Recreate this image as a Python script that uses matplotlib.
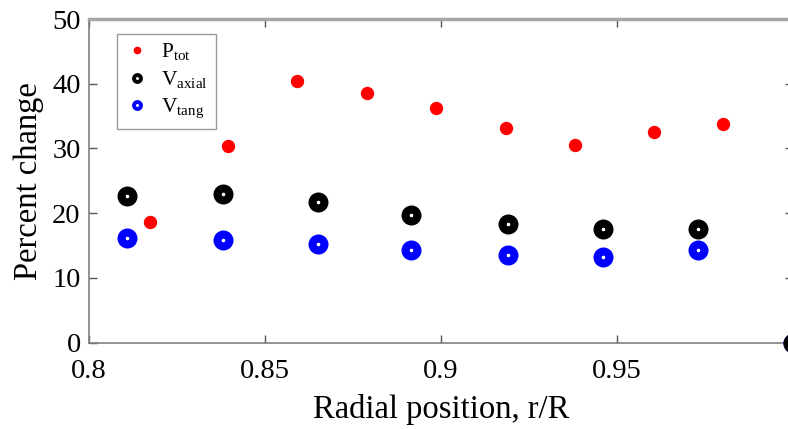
import matplotlib.pyplot as plt
from matplotlib.lines import Line2D

plt.rcParams['font.family'] = ['Liberation Serif', 'DejaVu Serif']
plt.rcParams['mathtext.fontset'] = 'custom'
plt.rcParams['mathtext.rm'] = 'Liberation Serif'

# 読み取った値
r_ptot = [0.8173, 0.8395, 0.859, 0.879, 0.8986, 0.9185, 0.938, 0.9605, 0.980]
p_tot = [18.6, 30.4, 40.5, 38.6, 36.3, 33.2, 30.6, 32.6, 33.8]

r_vel = [0.8108, 0.838, 0.865, 0.8915, 0.919, 0.946, 0.973, 1.0]
v_axial = [22.7, 23.0, 21.7, 19.8, 18.4, 17.5, 17.5, 0]
v_tang = [16.1, 15.8, 15.2, 14.3, 13.5, 13.2, 14.3, 0]

xticks = [0.8, 0.85, 0.9, 0.95, 1.0]
xticklabels = ['0.8', '0.85', '0.9', '0.95', '']
yticks = [0, 10, 20, 30, 40, 50]

fig = plt.figure(figsize=(7.88, 4.29), dpi=100)
ax = fig.add_axes([0.1129, 0.2012, 0.8934, 0.7545])

ax.plot(r_vel, v_tang, 'o', color='blue', mfc='white', ms=8.6, mew=5.8, clip_on=False, zorder=3)
ax.plot(r_vel, v_axial, 'o', color='black', mfc='white', ms=8.6, mew=5.8, clip_on=False, zorder=4)
ax.plot(r_ptot, p_tot, 'o', color='red', ms=9.6, mew=0, clip_on=False, zorder=5)

ax.set_xlim(0.8, 1.0)
ax.set_ylim(0, 50)
ax.set_xticks(xticks)
ax.set_xticklabels(xticklabels)
ax.set_yticks(yticks)
ax.tick_params(direction='in', length=6, width=1, color='#555555', labelsize=20.5,
               top=True, right=True, pad=6)
ax.tick_params(axis='x', pad=12)

for s in ['left', 'bottom']:
    ax.spines[s].set_color('#808080')
    ax.spines[s].set_linewidth(1.2)
ax.spines['top'].set_color('#a6a6a6')
ax.spines['top'].set_linewidth(2.5)
ax.spines['right'].set_color('#a6a6a6')

ax.set_xlabel('Radial position, r/R', fontsize=23.5, labelpad=7)
ax.set_ylabel('Percent change', fontsize=23.5, labelpad=6)

handles = [
    Line2D([], [], ls='none', marker='o', color='red', ms=5.5, mew=0),
    Line2D([], [], ls='none', marker='o', color='black', mfc='white', ms=5, mew=2.8),
    Line2D([], [], ls='none', marker='o', color='blue', mfc='white', ms=5, mew=2.8),
]
labels = [r'P$_{\rm tot}$', r'V$_{\rm axial}$', r'V$_{\rm tang}$']
leg = ax.legend(handles, labels, loc='upper left', bbox_to_anchor=(0.04, 0.955),
                fontsize=15.5, frameon=True, fancybox=False, edgecolor='#808080',
                handlelength=1.1, handletextpad=0.6, labelspacing=0.3,
                borderpad=0.35, borderaxespad=0)
leg.get_frame().set_linewidth(1.0)

plt.savefig('out.png', dpi=100)
